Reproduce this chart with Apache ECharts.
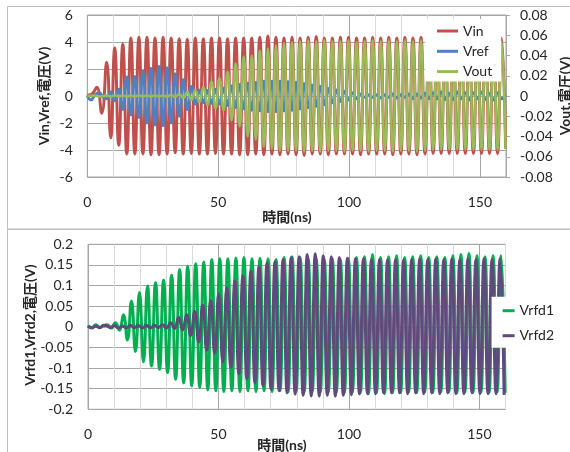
<!DOCTYPE html>
<html>
<head>
<meta charset="utf-8">
<script src="https://cdn.jsdelivr.net/npm/echarts@6/dist/echarts.min.js"></script>
<style>
html,body{margin:0;padding:0;background:#fff}
#chart{width:570px;height:452px}
</style>
</head>
<body>
<div id="chart"></div>
<script>
// time grid of the swings (ns): first full swing and half period
var tFirst = 7.4;
var halfCycle = 1.54;

// ---- upper chart (Vin, Vref: left axis V / Vout: right axis V) ----
var vinLead = [[0, 0.05], [1.8, 0.15], [3.6, 0.64], [5.5, -1.27]];
var vinPeaks = [
  2.5, -3.1, 3.55, -3.65, 3.85, -4.3, 4.3, -4.3, 4.35, -4.3,
  4.35, -4.35, 4.3, -4.35, 4.35, -4.3, 4.3, -4.2, 4.25, -4.3,
  4.2, -4.25, 4.3, -4.3, 4.25, -4.3, 4.3, -4.25, 4.3, -4.3,
  4.25, -4.3, 4.3, -4.35, 4.3, -4.35, 4.3, -4.3, 4.35, -4.35,
  4.45, -4.3, 4.35, -4.35, 4.3, -4.3, 4.35, -4.35, 4.3, -4.4,
  4.35, -4.3, 4.4, -4.3, 4.3, -4.35, 4.3, -4.3, 4.35, -4.3,
  4.35, -4.3, 4.3, -4.35, 4.3, -4.3, 4.35, -4.3, 4.3, -4.3,
  4.35, -4.35, 4.3, -4.3, 4.35, -4.3, 4.3, -4.35, 4.35, -4.3,
  4.3, -4.25, 4.3, -4.25, 4.3, -4.25, 4.3, -4.25, 4.3, -4.25,
  4.3, -4.25, 4.3, -4.25, 4.3, -4.25, 4.3, -4.25, 4.3, -3.9
];
var vrefLead = [[0, 0.05], [1.4, -0.3], [3.0, 0.1], [4.6, 0.25], [6.0, -0.1]];
var vrefPeaks = [
  -0.2, 0.3, -0.35, 0.5, -1.0, 1.4, -1.4, 1.45, -1.6, 1.85,
  -2.0, 2.05, -2.15, 2.2, -2.2, 2.1, -2.0, 1.65, -1.5, 1.2,
  -1.0, 0.7, -0.6, 0.45, -0.5, 0.4, -0.55, 0.5, -0.6, 0.6,
  -0.7, 0.75, -0.85, 0.85, -0.95, 0.95, -1.05, 1.0, -1.1, 1.1,
  -1.15, 1.1, -1.15, 1.1, -1.1, 1.05, -1.05, 1.0, -0.95, 0.9,
  -0.85, 0.8, -0.75, 0.7, -0.65, 0.55, -0.5, 0.45, -0.4, 0.35,
  -0.3, 0.25, -0.2, 0.15, -0.1, 0.1, -0.1, 0.1, -0.15, 0.1,
  -0.1, 0.15, -0.15, 0.1, -0.1, 0.15, -0.2, 0.15, -0.15, 0.2,
  -0.2, 0.25, -0.2, 0.3, -0.25, 0.2, -0.25, 0.3, -0.2, 0.25,
  -0.3, 0.25, -0.2, 0.3, -0.25, 0.2, -0.3, 0.25, -0.2, 0.1
];
var voutLead = [[0, 0], [2.5, 0.0005], [5.0, -0.0005]];
var voutPeaks = [
  0.0004, -0.0005, 0.0005, -0.0004, 0.0005, -0.0005, 0.0004, -0.0005, 0.0005, -0.0004,
  0.0005, -0.0005, 0.0006, -0.0005, 0.0005, -0.0006, 0.001, -0.001, 0.002, -0.002,
  0.004, -0.004, 0.006, -0.006, 0.009, -0.009, 0.014, -0.012, 0.0175, -0.014,
  0.024, -0.024, 0.032, -0.030, 0.039, -0.040, 0.040, -0.043, 0.045, -0.050,
  0.047, -0.052, 0.050, -0.054, 0.052, -0.054, 0.053, -0.054, 0.054, -0.055,
  0.055, -0.054, 0.054, -0.055, 0.055, -0.054, 0.054, -0.054, 0.054, -0.055,
  0.055, -0.054, 0.053, -0.054, 0.054, -0.055, 0.055, -0.054, 0.054, -0.054,
  0.055, -0.055, 0.054, -0.054, 0.055, -0.054, 0.054, -0.055, 0.055, -0.054,
  0.054, -0.053, 0.054, -0.053, 0.054, -0.053, 0.054, -0.053, 0.054, -0.053,
  0.054, -0.053, 0.054, -0.053, 0.054, -0.053, 0.054, -0.053, 0.053, -0.052
];

// ---- lower chart (Vrfd1, Vrfd2: V) ----
var vrfd1Lead = [[0, 0.003], [1.5, -0.002], [3.0, 0.005], [4.5, -0.002], [6.0, 0.004]];
var vrfd1Peaks = [
  0.005, -0.003, 0.01, -0.008, 0.029, -0.032, 0.0625, -0.06, 0.083, -0.085,
  0.099, -0.095, 0.107, -0.103, 0.113, -0.111, 0.125, -0.127, 0.139, -0.136,
  0.147, -0.143, 0.153, -0.147, 0.157, -0.153, 0.163, -0.155, 0.165, -0.157,
  0.165, -0.155, 0.167, -0.157, 0.168, -0.155, 0.165, -0.157, 0.166, -0.155,
  0.165, -0.157, 0.163, -0.155, 0.168, -0.158, 0.17, -0.157, 0.168, -0.158,
  0.165, -0.157, 0.165, -0.158, 0.163, -0.158, 0.165, -0.158, 0.163, -0.16,
  0.165, -0.158, 0.168, -0.16, 0.17, -0.162, 0.175, -0.16, 0.168, -0.162,
  0.17, -0.16, 0.172, -0.16, 0.168, -0.158, 0.17, -0.16, 0.172, -0.158,
  0.168, -0.16, 0.17, -0.158, 0.168, -0.158, 0.172, -0.16, 0.175, -0.158,
  0.178, -0.16, 0.172, -0.158, 0.17, -0.16, 0.172, -0.158, 0.172, -0.16
];
var vrfd2Shift = -0.4;
var vrfd2Lead = [[0, 0.002], [1.5, -0.003], [3.0, 0.002], [4.5, -0.002], [6.0, 0.003]];
var vrfd2Peaks = [
  0.003, -0.002, 0.003, -0.003, 0.002, -0.003, 0.004, -0.002, 0.003, -0.003,
  0.004, -0.003, 0.004, -0.002, 0.005, -0.003, 0.01, -0.004, 0.023, -0.008,
  0.029, -0.021, 0.037, -0.037, 0.053, -0.057, 0.064, -0.065, 0.081, -0.085,
  0.094, -0.098, 0.111, -0.114, 0.123, -0.126, 0.135, -0.135, 0.146, -0.143,
  0.155, -0.151, 0.158, -0.155, 0.163, -0.16, 0.168, -0.163, 0.17, -0.166,
  0.175, -0.168, 0.177, -0.168, 0.172, -0.166, 0.17, -0.168, 0.168, -0.166,
  0.166, -0.165, 0.165, -0.163, 0.165, -0.162, 0.163, -0.162, 0.163, -0.16,
  0.162, -0.16, 0.163, -0.16, 0.162, -0.162, 0.163, -0.16, 0.165, -0.162,
  0.163, -0.16, 0.165, -0.162, 0.163, -0.16, 0.165, -0.162, 0.163, -0.162,
  0.165, -0.16, 0.163, -0.162, 0.165, -0.162, 0.163, -0.162, 0.165, -0.165
];

function onGrid(values, shift) {
  return values.map(function (v, i) { return [tFirst + halfCycle * i + shift, v]; });
}

var font = 'Lato, "Noto Sans CJK JP", sans-serif';
var txt = '#262626';
var gridMajor = '#A6A6A6';
var gridMinor = '#D9D9D9';

function timeAxis(gridIndex) {
  return {
    type: 'value', gridIndex: gridIndex, min: 0, max: 160, interval: 10,
    axisLine: {show: false}, axisTick: {show: false},
    axisLabel: {
      margin: 18, fontSize: 14, fontFamily: font, color: txt,
      formatter: function (v) { return v % 50 === 0 && v < 160 ? String(v) : ''; }
    },
    splitLine: {show: true, lineStyle: {width: 1,
      color: [gridMajor, gridMinor, gridMinor, gridMinor, gridMinor]}}
  };
}

function line(name, color, width, data, xi, yi) {
  return {
    name: name, type: 'line', xAxisIndex: xi, yAxisIndex: yi, data: data,
    smooth: 0.5, showSymbol: false, symbol: 'none', animation: false,
    lineStyle: {color: color, width: width}, itemStyle: {color: color}
  };
}

var chart = echarts.init(document.getElementById('chart'));
chart.setOption({
  animation: false,
  backgroundColor: '#fff',
  textStyle: {fontFamily: font},
  grid: [
    {left: 87.3, top: 15, width: 418.7, height: 162, show: true, borderColor: gridMajor, borderWidth: 1},
    {left: 88, top: 244.3, width: 417.5, height: 165, show: true, borderColor: gridMajor, borderWidth: 1}
  ],
  xAxis: [timeAxis(0), timeAxis(1)],
  yAxis: [
    {type: 'value', gridIndex: 0, min: -6, max: 6, interval: 2,
      axisLine: {show: false}, axisTick: {show: false},
      axisLabel: {margin: 14.5, fontSize: 14, fontFamily: font, color: txt},
      splitLine: {lineStyle: {color: gridMajor}}},
    {type: 'value', gridIndex: 0, position: 'right', min: -0.08, max: 0.08, interval: 0.02,
      axisLine: {show: true, lineStyle: {color: gridMajor}},
      axisTick: {show: true, length: 4, lineStyle: {color: gridMajor}},
      axisLabel: {margin: 14, fontSize: 14, fontFamily: font, color: txt},
      splitLine: {show: false}},
    {type: 'value', gridIndex: 1, min: -0.2, max: 0.2, interval: 0.05,
      axisLine: {show: false}, axisTick: {show: false},
      axisLabel: {margin: 15, fontSize: 14, fontFamily: font, color: txt},
      splitLine: {lineStyle: {color: gridMajor}}}
  ],
  legend: [
    {data: ['Vin', 'Vref', 'Vout'], orient: 'vertical', left: 425, top: 19,
      backgroundColor: '#fff', padding: [5, 9, 3, 12], itemWidth: 21, itemHeight: 3,
      itemGap: 6.3, icon: 'rect', textStyle: {fontSize: 14, fontFamily: font, color: txt}},
    {data: ['Vrfd1', 'Vrfd2'], orient: 'vertical', left: 491.6, top: 296.7,
      backgroundColor: '#fff', padding: [7, 8, 5, 11], itemWidth: 12, itemHeight: 3,
      itemGap: 11, icon: 'rect', textStyle: {fontSize: 14, fontFamily: font, color: txt}}
  ],
  graphic: [
    {type: 'rect', shape: {x: 7.5, y: 6.5, width: 570, height: 222.5}, z: -10,
      style: {fill: 'none', stroke: '#BFBFBF', lineWidth: 1}, silent: true},
    {type: 'rect', shape: {x: 7.5, y: 229.5, width: 570, height: 240}, z: -10,
      style: {fill: 'none', stroke: '#BFBFBF', lineWidth: 1}, silent: true},
    {type: 'text', x: 44, y: 96, rotation: Math.PI / 2, silent: true,
      style: {text: 'Vin,Vref,電圧(V)', fontSize: 14, fontWeight: 'bold', fontFamily: font, fill: txt, align: 'center', verticalAlign: 'middle'}},
    {type: 'text', x: 565, y: 96, rotation: Math.PI / 2, silent: true,
      style: {text: 'Vout,電圧(V)', fontSize: 14, fontWeight: 'bold', fontFamily: font, fill: txt, align: 'center', verticalAlign: 'middle'}},
    {type: 'text', x: 287, y: 217, silent: true,
      style: {text: '時間(ns)', fontSize: 14, fontWeight: 'bold', fontFamily: font, fill: txt, align: 'center', verticalAlign: 'middle'}},
    {type: 'text', x: 30, y: 325, rotation: Math.PI / 2, silent: true,
      style: {text: 'Vrfd1,Vrfd2,電圧(V)', fontSize: 14, fontWeight: 'bold', fontFamily: font, fill: txt, align: 'center', verticalAlign: 'middle'}},
    {type: 'text', x: 282, y: 445, silent: true,
      style: {text: '時間(ns)', fontSize: 14, fontWeight: 'bold', fontFamily: font, fill: txt, align: 'center', verticalAlign: 'middle'}}
  ],
  series: [
    line('Vin', '#C0504D', 3, vinLead.concat(onGrid(vinPeaks, 0)), 0, 0),
    line('Vref', '#4F81BD', 3, vrefLead.concat(onGrid(vrefPeaks, 0)), 0, 0),
    line('Vout', '#9BBB59', 2.5, voutLead.concat(onGrid(voutPeaks, 0)), 0, 1),
    line('Vrfd1', '#00B050', 3, vrfd1Lead.concat(onGrid(vrfd1Peaks, 0)), 1, 2),
    line('Vrfd2', '#604A7B', 3, vrfd2Lead.concat(onGrid(vrfd2Peaks, vrfd2Shift)), 1, 2)
  ]
});
</script>
</body>
</html>
